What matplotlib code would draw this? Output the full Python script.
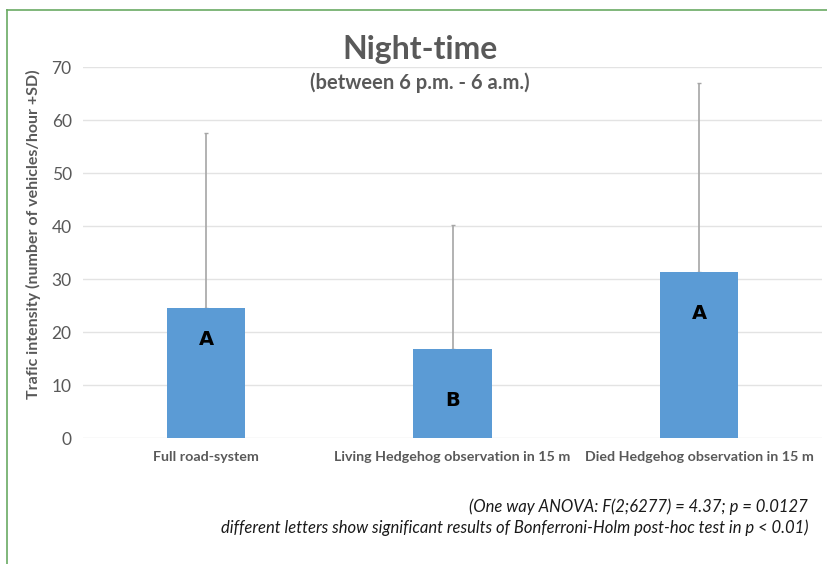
import numpy as np
import matplotlib.pyplot as plt
from matplotlib.lines import Line2D

plt.rcParams['font.family'] = ['Lato', 'DejaVu Sans']

# Night-time traffic intensity per group
groups = ['Full road-system',
          'Living Hedgehog observation in 15 m',
          'Died Hedgehog observation in 15 m']
means = [24.6, 16.8, 31.3]
sds = [32.9, 23.4, 35.7]
letters = ['A', 'B', 'A']
letter_y = [18.5, 7.0, 23.5]

grey = '#595959'
bar_blue = '#5b9bd5'

fig = plt.figure(figsize=(8.28, 5.64), dpi=100)
ax = fig.add_axes([0.100, 0.2234, 0.893, 0.6578])

x = np.arange(len(groups))
ax.bar(x, means, width=0.32, color=bar_blue, zorder=3)
ax.errorbar(x, means, yerr=[np.zeros(len(sds)), sds], fmt='none',
            ecolor='#a6a6a6', elinewidth=1.2, capsize=1.5, zorder=2)

for xi, lab, ly in zip(x, letters, letter_y):
    ax.text(xi, ly, lab, ha='center', va='center', fontsize=14,
            fontweight='bold', color='black', family='DejaVu Sans', zorder=4)

ax.set_xlim(-0.5, 2.5)
ax.set_ylim(0, 70)
ax.set_yticks(np.arange(0, 71, 10))
ax.set_xticks(x)
ax.set_xticklabels(groups, fontsize=10.3, fontweight='bold', color=grey)
ax.tick_params(axis='y', labelsize=12.5, colors=grey, length=0, pad=8)
ax.tick_params(axis='x', length=0, pad=9)
ax.grid(axis='y', color='#e3e3e3', linewidth=1, zorder=0)
for s in ax.spines.values():
    s.set_visible(False)
ax.set_ylabel('Trafic intensity (number of vehicles/hour +SD)', fontsize=11.5,
              fontweight='bold', color=grey)
ax.yaxis.set_label_coords(-0.056, 0.55)

fig.text(0.507, 0.913, 'Night-time', ha='center', va='center', fontsize=23,
         fontweight='bold', color=grey)
fig.text(0.507, 0.853, '(between 6 p.m. - 6 a.m.)', ha='center', va='center',
         fontsize=14.5, fontweight='bold', color=grey)

fig.text(0.976, 0.101, '(One way ANOVA: F(2;6277) = 4.37; p = 0.0127',
         ha='right', va='center', fontsize=12, style='italic', color='#1a1a1a')
fig.text(0.976, 0.064, 'different letters show significant results of '
         'Bonferroni-Holm post-hoc test in p < 0.01)',
         ha='right', va='center', fontsize=12, style='italic', color='#1a1a1a')

# green frame along the top and left edge
frame = '#6aaa64'
fig.add_artist(Line2D([0.0085, 1.0], [0.982, 0.982], color=frame, lw=1.2,
                      transform=fig.transFigure))
fig.add_artist(Line2D([0.0085, 0.0085], [0.0, 0.982], color=frame, lw=1.2,
                      transform=fig.transFigure))

fig.savefig('out.png', dpi=100)
